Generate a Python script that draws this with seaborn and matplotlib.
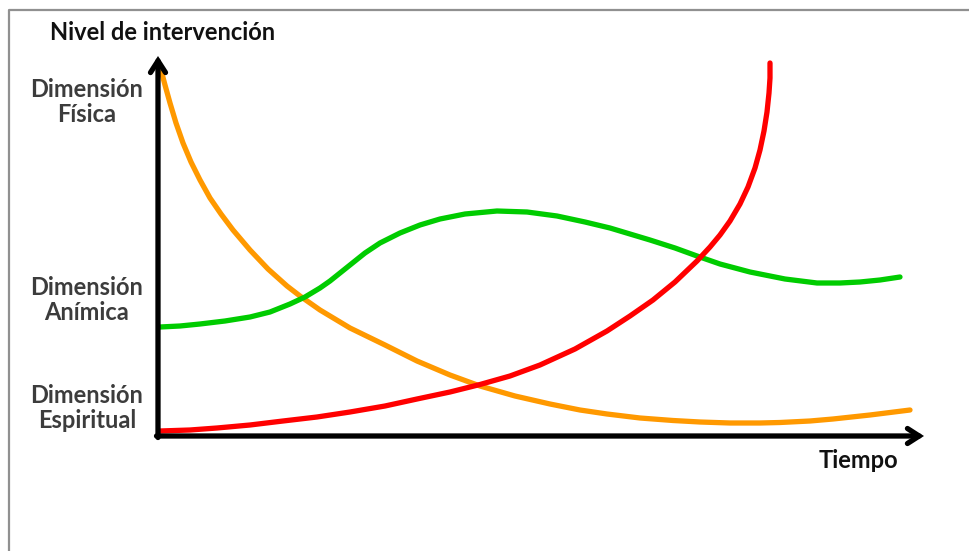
import numpy as np
import pandas as pd
import matplotlib
matplotlib.use("Agg")
import matplotlib.pyplot as plt
import seaborn as sns

fisica_t = [3, 7, 12, 18, 25, 33, 42, 52, 63, 75, 92, 110, 129, 142, 162, 192, 227,
            259, 292, 322, 357, 392, 422, 449, 482, 515, 542, 572, 602, 622, 652, 675, 712, 752]
fisica_v = [366, 351, 333, 313, 293, 274, 256, 238, 222, 206, 186, 167, 150, 140, 126, 108, 91,
            75, 61, 50, 40, 32, 26, 22, 18, 15.5, 14, 13, 13, 13.5, 15, 17, 21, 26]

animica_t = [2, 22, 42, 67, 92, 112, 132, 147, 162, 172, 182, 192, 207, 222, 242, 262, 282, 307,
             339, 369, 399, 427, 452, 472, 492, 517, 539, 562, 592, 627, 659, 682, 702, 722, 742]
animica_v = [109, 110, 112, 115, 119, 124, 132, 139, 148, 155, 163, 171, 183, 193, 203, 211, 217, 222,
             225, 224, 220, 214, 208, 202, 196, 188, 180, 172, 164, 157, 153, 153, 154, 156, 159]

espiritual_t = [2, 32, 59, 92, 125, 159, 192, 227, 259, 292, 322, 352, 382, 417, 449, 472,
                495, 517, 539, 552, 562, 572, 582, 590, 597, 602, 606, 609, 611, 612, 612]
espiritual_v = [5, 6, 8, 11, 15, 19, 24, 30, 37, 44, 51.5, 60, 71, 87, 105, 120,
                136, 154, 175, 189, 201, 215, 232, 249, 268, 286, 305, 324, 343, 358, 373]

level_labels = ["Dimensión\nFísica", "Dimensión\nAnímica", "Dimensión\nEspiritual"]
level_pos = [334, 136, 28]

sns.set_theme(style="white")
plt.rcParams['font.family'] = ['Lato', 'DejaVu Sans']

df = pd.concat([
    pd.DataFrame({"t": fisica_t, "v": fisica_v, "serie": "Física"}),
    pd.DataFrame({"t": animica_t, "v": animica_v, "serie": "Anímica"}),
    pd.DataFrame({"t": espiritual_t, "v": espiritual_v, "serie": "Espiritual"}),
])
palette = {"Física": "#FF9900", "Anímica": "#00CC00", "Espiritual": "#FF0000"}

fig = plt.figure(figsize=(9.7, 5.51), dpi=100)
ax = fig.add_axes([0, 0, 1, 1])
ax.set_xlim(-158, 812)
ax.set_ylim(-115, 436)
ax.axis("off")

# grey frame around the picture (open at right and bottom)
ax.plot([-149, -149, 812], [-120, 426, 426], color="#909090", lw=1.6, clip_on=False)

sns.lineplot(data=df, x="t", y="v", hue="serie", palette=palette, sort=False,
             estimator=None, lw=3.8, legend=False, ax=ax,
             solid_capstyle="round", solid_joinstyle="round")

# axes with arrow heads
arrow = dict(arrowstyle="->,head_length=0.7,head_width=0.45", lw=3.8,
             color="black", shrinkA=0, shrinkB=0, joinstyle="miter")
ax.annotate("", xy=(0, 380), xytext=(0, -1.5), arrowprops=arrow)
ax.annotate("", xy=(766, 0), xytext=(-1.5, 0), arrowprops=arrow)

ax.text(5, 403, "Nivel de intervención", ha="center", va="center",
        fontsize=17, fontweight="bold", color="#111111")
ax.text(700, -24, "Tiempo", ha="center", va="center",
        fontsize=17, fontweight="bold", color="#111111")
for lab, pos in zip(level_labels, level_pos):
    ax.text(-71, pos, lab, ha="center", va="center", fontsize=17,
            fontweight="bold", color="#3c3c3c", linespacing=1.15)

fig.savefig("out.png", dpi=100)
